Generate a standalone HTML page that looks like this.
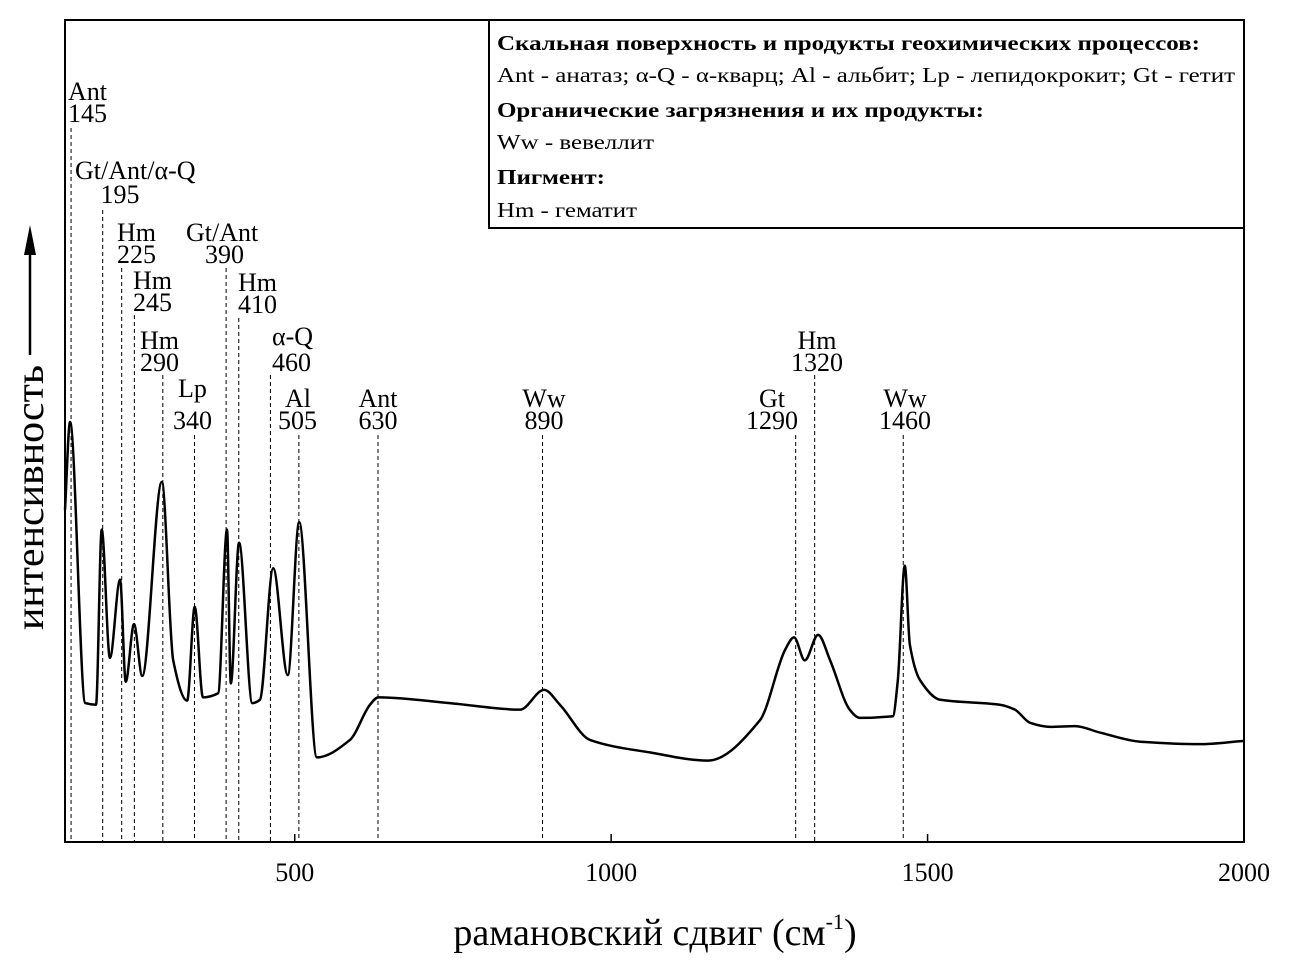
<!DOCTYPE html>
<html><head><meta charset="utf-8"><style>
body{margin:0;background:#fff}
svg{display:block;font-family:"Liberation Serif",serif}
</style></head><body>
<svg id="c" width="1289" height="972" viewBox="0 0 1289 972"></svg>
<script>
const wn=[137,145,169,186,195,208,224,233,246,259,290,308,330,342,355,379,393,399,412,433,445,466,489,507,535,587,619,632,745,856,894,919,967,1061,1153,1235,1275,1289,1306,1327,1346,1377,1393,1445,1453,1464,1472,1488,1520,1614,1638,1662,1694,1733,1773,1836,1930,2000];
const inten=[40.4,51.1,16.9,16.7,38.0,22.4,31.9,19.5,26.5,20.2,43.8,22.1,17.2,28.6,17.6,18.1,38.0,19.3,36.4,16.9,17.3,33.3,20.3,38.9,10.3,12.4,16.7,17.6,16.9,16.1,18.5,16.7,12.4,10.9,9.9,14.8,23.4,24.9,22.1,25.2,22.1,16.1,15.1,15.3,19.7,33.6,24.0,19.7,17.3,16.7,16.1,14.5,14.0,14.1,13.3,12.2,11.9,12.3];
const peakPos=[145,195,225,245,290,340,390,410,460,505,630,890,1290,1320,1460];
const xTicks=[500,1000,1500,2000];
const NS='http://www.w3.org/2000/svg';
const svg=document.getElementById('c');
const L=65,R=1244,T=20,B=842,X0=137,X1=2000;
const sx=v=>L+(v-X0)*(R-L)/(X1-X0);
const sy=v=>B-v*(B-T)/100;
function el(t,a,p){const e=document.createElementNS(NS,t);for(const k in a)e.setAttribute(k,a[k]);(p||svg).appendChild(e);return e;}
function txt(x,y,s,o){const e=el('text',Object.assign({x:x,y:y,'font-size':26},o||{}));e.textContent=s;return e;}
const lineTop=[128,210,268,315,375,435,268,318,375,435,435,435,435,375,435];
peakPos.forEach((p,i)=>{const l=el('line',{x1:sx(p)+1,x2:sx(p)+1,y1:lineTop[i],y2:B,stroke:'#000','stroke-width':1,'stroke-dasharray':'4,3'});

});
const px=wn.map(sx),py=inten.map(sy),n=px.length;
const d=[],m=[];for(let i=0;i<n-1;i++)d.push((py[i+1]-py[i])/(px[i+1]-px[i]));
m[0]=d[0];m[n-1]=d[n-2];for(let i=1;i<n-1;i++){m[i]=(d[i-1]*d[i]<=0)?0:2/(1/d[i-1]+1/d[i]);}
let path='M'+px[0]+','+py[0];
for(let i=0;i<n-1;i++){const h=(px[i+1]-px[i])/3;path+=' C'+(px[i]+h)+','+(py[i]+m[i]*h)+' '+(px[i+1]-h)+','+(py[i+1]-m[i+1]*h)+' '+px[i+1]+','+py[i+1];}
const sp=el('path',{d:path,fill:'none',stroke:'#000','stroke-width':2.5,'stroke-linejoin':'round'});


const fr=el('rect',{x:L,y:T,width:R-L,height:B-T,fill:'none',stroke:'#000','stroke-width':2});


xTicks.forEach(t=>{el('line',{x1:sx(t),x2:sx(t),y1:B,y2:B-8,stroke:'#000','stroke-width':1.5});
const tl=txt(sx(t),881,String(t),{'text-anchor':'middle'});

});
const labs=[["Ant",68,100,"start"],["145",68,122,"start"],["Gt/Ant/α-Q",75,179,"start"],["195",120,203,"middle"],
["Hm",117,241,"start"],["225",117,263,"start"],["Hm",133,289,"start"],["245",133,311,"start"],
["Hm",140,349,"start"],["290",140,371,"start"],["Lp",178,397,"start"],["340",173,429,"start"],
["Gt/Ant",186,241,"start"],["390",205,263,"start"],["Hm",238,291,"start"],["410",238,313,"start"],
["α-Q",272,345,"start"],["460",272,371,"start"],["Al",285,407,"start"],["505",278,429,"start"],
["Ant",378,407,"middle"],["630",378,429,"middle"],["Ww",544,407,"middle"],["890",544,429,"middle"],
["Gt",772,407,"middle"],["1290",772,429,"middle"],["Hm",817,349,"middle"],["1320",817,371,"middle"],
["Ww",905,407,"middle"],["1460",905,429,"middle"]];
labs.forEach(a=>{const e=txt(a[1],a[2],a[0],{'text-anchor':a[3]});

});
const lg=el('rect',{x:489,y:20,width:755,height:208,fill:'#fff',stroke:'#000','stroke-width':2});


const lines=[["Скальная поверхность и продукты геохимических процессов:",50,true,703],
["Ant - анатаз; α-Q - α-кварц; Al - альбит; Lp - лепидокрокит; Gt - гетит",82,false,738],
["Органические загрязнения и их продукты:",117,true,487],["Ww - вевеллит",149,false,157],
["Пигмент:",184,true,108],["Hm - гематит",217,false,140]];
lines.forEach(a=>{const e=txt(497,a[1],a[0],{'font-size':21,'font-weight':a[2]?'bold':'normal',textLength:a[3],lengthAdjust:'spacingAndGlyphs'});

});
const xt=txt(655,945,'рамановский сдвиг (см',{'font-size':38,'text-anchor':'middle'});
const ts=el('tspan',{'font-size':22,dy:-16},xt);ts.textContent='-1';
const ts2=el('tspan',{dy:16},xt);ts2.textContent=')';


const yt=txt(0,0,'интенсивность',{'font-size':40,textLength:265,lengthAdjust:'spacingAndGlyphs',transform:'translate(43,630) rotate(-90)'});


el('line',{x1:30,x2:30,y1:355,y2:250,stroke:'#000','stroke-width':2.5});
const ar=el('polygon',{points:'30,225 24,255 36,255',fill:'#000'});


</script>
</body></html>
